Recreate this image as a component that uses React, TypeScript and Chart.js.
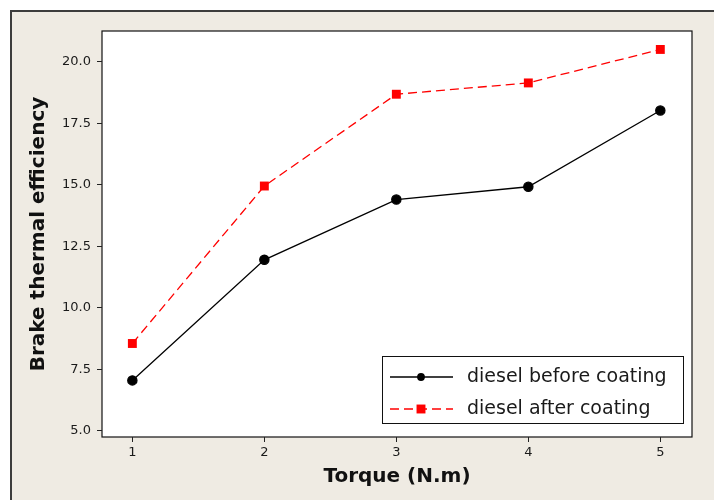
import React, { useEffect, useRef } from "react";
import { Chart, registerables } from "chart.js";

Chart.register(...registerables);

const torque = [1, 2, 3, 4, 5];
const beforeCoating = [7.05, 11.95, 14.4, 14.92, 18.02];
const afterCoating = [8.55, 14.95, 18.68, 19.14, 20.5];
const xTicks = [1, 2, 3, 4, 5];
const yTicks = [5.0, 7.5, 10.0, 12.5, 15.0, 17.5, 20.0];
const seriesLabels = ["diesel before coating", "diesel after coating"];

const BEIGE = "#EFEBE3";
const FONT = "'DejaVu Sans', Verdana, sans-serif";

const framePlugin = {
  id: "frame",
  beforeDraw(chart: any) {
    const { ctx, chartArea: a, width, height } = chart;
    ctx.save();
    ctx.fillStyle = "#ffffff";
    ctx.fillRect(0, 0, width, height);
    ctx.fillStyle = BEIGE;
    ctx.fillRect(11, 11, width - 11, height - 11);
    ctx.strokeStyle = "#3c3c3c";
    ctx.lineWidth = 2;
    ctx.beginPath();
    ctx.moveTo(11, height);
    ctx.lineTo(11, 11);
    ctx.lineTo(width, 11);
    ctx.stroke();
    ctx.fillStyle = "#ffffff";
    ctx.fillRect(a.left, a.top, a.right - a.left, a.bottom - a.top);
    ctx.strokeStyle = "#111111";
    ctx.lineWidth = 1.2;
    ctx.strokeRect(a.left, a.top, a.right - a.left, a.bottom - a.top);
    ctx.restore();
  },
};

const legendPlugin = {
  id: "insideLegend",
  afterDatasetsDraw(chart: any) {
    const { ctx, chartArea: a } = chart;
    const w = 301;
    const h = 67;
    const x0 = a.right - 9 - w;
    const y0 = a.bottom - 14 - h;
    ctx.save();
    ctx.fillStyle = "#ffffff";
    ctx.fillRect(x0, y0, w, h);
    ctx.strokeStyle = "#111111";
    ctx.lineWidth = 1;
    ctx.strokeRect(x0 + 0.5, y0 + 0.5, w, h);
    chart.data.datasets.forEach((ds: any, i: number) => {
      const cy = y0 + 21 + i * 32;
      ctx.strokeStyle = ds.borderColor;
      ctx.lineWidth = ds.borderWidth;
      ctx.setLineDash(ds.borderDash || []);
      ctx.beginPath();
      ctx.moveTo(x0 + 8, cy);
      ctx.lineTo(x0 + 71, cy);
      ctx.stroke();
      ctx.setLineDash([]);
      ctx.fillStyle = ds.pointBackgroundColor;
      const mx = x0 + 39;
      if (ds.pointStyle === "rect") {
        const s = Math.SQRT1_2 * ds.pointRadius;
        ctx.fillRect(mx - s, cy - s, 2 * s, 2 * s);
      } else {
        ctx.beginPath();
        ctx.arc(mx, cy, ds.pointRadius * 0.85, 0, Math.PI * 2);
        ctx.fill();
      }
      ctx.fillStyle = "#1a1a1a";
      ctx.font = `19px ${FONT}`;
      ctx.textBaseline = "middle";
      ctx.textAlign = "left";
      ctx.fillText(ds.label, x0 + 85, cy);
    });
    ctx.restore();
  },
};

export default function App() {
  const ref = useRef<HTMLCanvasElement | null>(null);

  useEffect(() => {
    if (!ref.current) return;
    const chart = new Chart(ref.current, {
      type: "line",
      data: {
        datasets: [
          {
            label: seriesLabels[0],
            data: torque.map((t, i) => ({ x: t, y: beforeCoating[i] })),
            borderColor: "#000000",
            backgroundColor: "#000000",
            pointBackgroundColor: "#000000",
            pointBorderColor: "#000000",
            borderWidth: 1.3,
            pointRadius: 4.6,
            pointStyle: "circle",
            tension: 0,
          },
          {
            label: seriesLabels[1],
            data: torque.map((t, i) => ({ x: t, y: afterCoating[i] })),
            borderColor: "#ff0000",
            backgroundColor: "#ff0000",
            pointBackgroundColor: "#ff0000",
            pointBorderColor: "#ff0000",
            borderWidth: 1.3,
            borderDash: [9, 5],
            pointRadius: 6.3,
            pointBorderWidth: 0,
            pointStyle: "rect",
            tension: 0,
          },
        ],
      } as any,
      options: {
        animation: false,
        responsive: false,
        devicePixelRatio: 1,
        layout: { padding: { top: 31, right: 22, left: 0, bottom: 0 } },
        plugins: {
          legend: { display: false },
          tooltip: { enabled: false },
        },
        scales: {
          x: {
            type: "linear",
            min: 0.77,
            max: 5.24,
            afterBuildTicks: (s: any) => {
              s.ticks = xTicks.map((v) => ({ value: v }));
            },
            afterFit: (s: any) => {
              s.height = 63;
            },
            grid: {
              display: true,
              drawOnChartArea: false,
              drawTicks: true,
              tickLength: 5,
              color: "#222222",
            },
            border: { display: false },
            ticks: {
              color: "#1a1a1a",
              font: { family: FONT, size: 13 },
              padding: 3,
              callback: (v: any) => String(v),
            },
            title: {
              display: true,
              text: "Torque (N.m)",
              color: "#111111",
              font: { family: FONT, size: 20, weight: "bold" },
              padding: { top: 0, bottom: 11 },
            },
          },
          y: {
            type: "linear",
            min: 4.75,
            max: 21.25,
            afterBuildTicks: (s: any) => {
              s.ticks = yTicks.map((v) => ({ value: v }));
            },
            afterFit: (s: any) => {
              s.width = 102;
            },
            grid: {
              display: true,
              drawOnChartArea: false,
              drawTicks: true,
              tickLength: 5,
              color: "#222222",
            },
            border: { display: false },
            ticks: {
              color: "#1a1a1a",
              font: { family: FONT, size: 13 },
              padding: 6,
              callback: (v: any) => Number(v).toFixed(1),
            },
            title: {
              display: true,
              text: "Brake thermal efficiency",
              color: "#111111",
              font: { family: FONT, size: 20, weight: "bold" },
              padding: { top: 27, bottom: 0 },
            },
          },
        },
      } as any,
      plugins: [framePlugin, legendPlugin],
    });
    return () => chart.destroy();
  }, []);

  return (
    <div style={{ position: "fixed", left: 0, top: 0, width: 714, height: 500 }}>
      <canvas ref={ref} width={714} height={500} style={{ display: "block" }} />
    </div>
  );
}
